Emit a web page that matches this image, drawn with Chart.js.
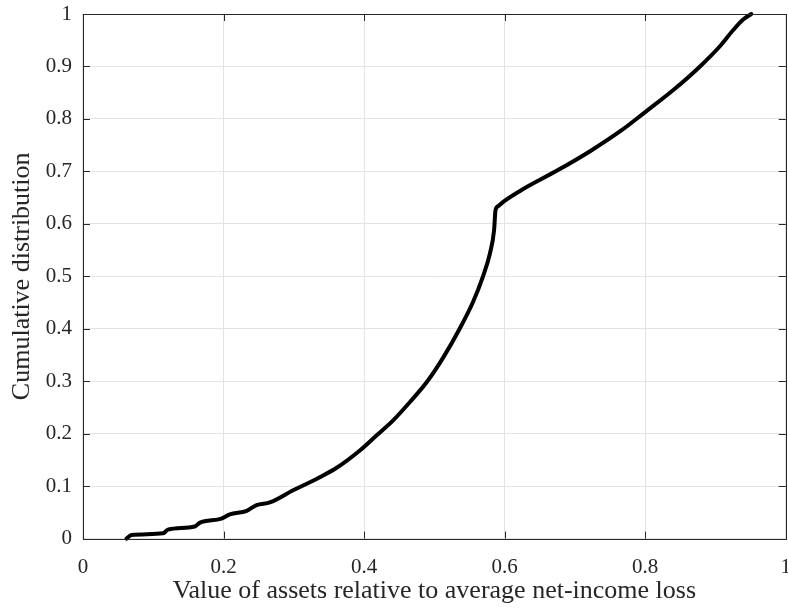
<!DOCTYPE html>
<html>
<head>
<meta charset="utf-8">
<script src="https://cdn.jsdelivr.net/npm/chart.js@4.4.1/dist/chart.umd.min.js"></script>
<style>
  html, body { margin: 0; padding: 0; background: #fff; overflow: hidden; }
  #chart { display: block; }
</style>
</head>
<body>
<canvas id="chart" width="807" height="609"></canvas>
<script>
// values
const assetRatio = [
  0.062, 0.069, 0.114, 0.121, 0.159, 0.166, 0.197, 0.209, 0.233, 0.247,
  0.266, 0.299, 0.337, 0.361, 0.394, 0.418, 0.441, 0.465, 0.489, 0.513,
  0.536, 0.555, 0.569, 0.579, 0.585, 0.587, 0.591, 0.598, 0.626, 0.674,
  0.721, 0.766, 0.800, 0.840, 0.878, 0.906, 0.925, 0.939, 0.951,
];
const cumulativeShare = [
  0.000, 0.007, 0.010, 0.017, 0.023, 0.030, 0.038, 0.046, 0.053, 0.064,
  0.069, 0.092, 0.117, 0.135, 0.168, 0.197, 0.225, 0.260, 0.298, 0.346,
  0.400, 0.451, 0.499, 0.543, 0.588, 0.626, 0.634, 0.642, 0.666, 0.701,
  0.738, 0.778, 0.813, 0.855, 0.900, 0.938, 0.969, 0.989, 1.000,
];
const xRange = [0, 1];
const yRange = [0, 1];
const xStep = 0.2;
const yStep = 0.1;

const axisColor = '#262626';
const gridColor = '#e3e3e3';
const serif = '"Liberation Serif", "Times New Roman", serif';

const fmt = (v) => String(+v.toFixed(1));

// MATLAB style box with ticks pointing inwards on all four sides
const innerTicks = {
  id: 'innerTicks',
  afterDraw(chart) {
    const {
      ctx,
      chartArea: { left, right, top, bottom },
      scales: { x, y },
    } = chart;
    const len = 7;
    ctx.save();
    ctx.strokeStyle = axisColor;
    ctx.lineWidth = 1;
    ctx.beginPath();
    x.ticks.forEach((t) => {
      const px = Math.round(x.getPixelForValue(t.value)) + 0.5;
      ctx.moveTo(px, bottom);
      ctx.lineTo(px, bottom - len);
      ctx.moveTo(px, top);
      ctx.lineTo(px, top + len);
    });
    y.ticks.forEach((t) => {
      const py = Math.round(y.getPixelForValue(t.value)) + 0.5;
      ctx.moveTo(left, py);
      ctx.lineTo(left + len, py);
      ctx.moveTo(right, py);
      ctx.lineTo(right - len, py);
    });
    ctx.stroke();
    ctx.strokeRect(Math.round(left) + 0.5, Math.round(top) + 0.5,
      Math.round(right - left), Math.round(bottom - top));
    ctx.restore();
  },
};

const points = assetRatio.map((v, i) => ({ x: v, y: cumulativeShare[i] }));

new Chart(document.getElementById('chart'), {
  type: 'scatter',
  data: {
    datasets: [
      {
        data: points,
        showLine: true,
        borderColor: '#000',
        borderWidth: 4,
        pointRadius: 0,
        cubicInterpolationMode: 'monotone',
        borderJoinStyle: 'round',
        borderCapStyle: 'round',
        clip: false,
      },
    ],
  },
  options: {
    responsive: false,
    animation: false,
    layout: { padding: { top: 14, right: 0, left: 0, bottom: 0 } },
    plugins: {
      legend: { display: false },
      tooltip: { enabled: false },
    },
    scales: {
      x: {
        type: 'linear',
        min: xRange[0],
        max: xRange[1],
        ticks: {
          stepSize: xStep,
          color: axisColor,
          padding: 16,
          maxRotation: 0,
          font: { family: serif, size: 21 },
          callback: fmt,
        },
        grid: { color: gridColor, drawTicks: false },
        border: { display: false },
        title: {
          display: true,
          text: 'Value of assets relative to average net-income loss',
          color: axisColor,
          font: { family: serif, size: 26 },
          padding: { top: -20, bottom: 2 },
        },
      },
      y: {
        type: 'linear',
        min: yRange[0],
        max: yRange[1],
        ticks: {
          stepSize: yStep,
          color: axisColor,
          padding: 11,
          font: { family: serif, size: 21, lineHeight: 0.25 },
          callback: fmt,
        },
        grid: { color: gridColor, drawTicks: false },
        border: { display: false },
        title: {
          display: true,
          text: 'Cumulative distribution',
          color: axisColor,
          font: { family: serif, size: 26 },
          padding: { top: 7, bottom: -3.5 },
        },
      },
    },
  },
  plugins: [innerTicks],
});
</script>
</body>
</html>
